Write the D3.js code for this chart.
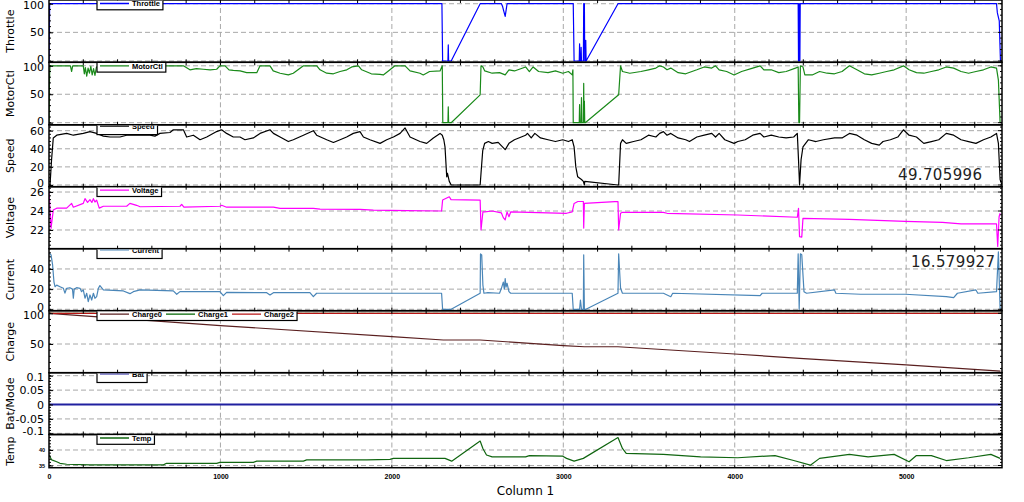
<!DOCTYPE html>
<html><head><meta charset="utf-8">
<script src="https://cdn.jsdelivr.net/npm/d3@7"></script>
<style>body{margin:0;background:#fff}svg{display:block}</style>
</head><body><svg id="c" width="1024" height="502"></svg>
<script>
// ---------- data (x = Column 1, y = value) ----------
const throttle = [[0,0],[4,100],[2292,100],[2296,0],[2327,0],[2329,28],[2331,0],[2346,0],[2515,100],[2639,100],[2646,95],[2652,88],[2661,78],[2666,88],[2672,100],[3058,100],[3063,0],[3093,0],[3095,30],[3097,0],[3102,0],[3104,24],[3106,0],[3117,0],[3119,100],[3123,100],[3125,0],[3129,0],[3131,36],[3133,0],[3319,100],[4370,100],[4372,0],[4374,100],[4376,0],[4378,100],[4380,0],[4382,100],[5527,100],[5532,84],[5543,70],[5550,0]];

const motorCtl = [[0,0],[3,80],[6,100],[125,100],[132,90],[138,100],[200,100],[206,86],[212,97],[220,82],[228,96],[236,87],[244,99],[252,84],[260,95],[268,83],[276,97],[284,100],[667,100],[784,100],[822,93],[860,95],[900,94],[940,93],[978,94],[997,100],[1027,100],[1050,93],[1075,92],[1115,91],[1153,88],[1212,88],[1231,100],[1289,100],[1308,91],[1348,87],[1396,84],[1425,87],[1484,100],[1562,100],[1581,93],[1620,87],[1659,86],[1698,90],[1737,93],[1766,98],[1805,100],[1824,93],[1880,86],[1931,85],[1950,84],[1989,93],[2018,100],[2077,100],[2106,91],[2164,87],[2183,84],[2220,90],[2281,91],[2294,100],[2297,0],[2327,0],[2329,28],[2331,0],[2346,0],[2515,49],[2520,100],[2531,98],[2542,91],[2585,87],[2628,88],[2661,84],[2683,93],[2715,91],[2780,98],[2802,90],[2824,98],[2856,90],[2911,88],[2954,91],[2997,87],[3030,90],[3052,84],[3056,93],[3058,0],[3093,0],[3095,32],[3097,0],[3104,0],[3106,44],[3108,0],[3117,0],[3119,69],[3121,0],[3123,38],[3125,0],[3128,0],[3323,49],[3334,100],[3345,90],[3388,87],[3453,90],[3497,93],[3540,96],[3562,100],[3584,98],[3605,93],[3627,96],[3670,88],[3714,86],[3779,93],[3822,98],[3866,96],[3888,100],[3909,93],[3953,90],[3996,84],[4040,90],[4105,96],[4148,100],[4170,93],[4213,93],[4257,88],[4300,90],[4354,96],[4370,98],[4374,0],[4378,0],[4383,100],[4398,98],[4409,84],[4452,84],[4495,90],[4539,87],[4582,86],[4626,90],[4669,100],[4713,93],[4756,86],[4799,84],[4843,87],[4886,90],[4930,93],[4984,100],[5017,93],[5060,88],[5103,87],[5147,90],[5190,93],[5234,98],[5277,96],[5320,90],[5364,87],[5407,90],[5451,93],[5494,98],[5527,96],[5538,75],[5548,0]];

const speed = [[0,0],[6,0],[15,28],[25,52],[45,55],[103,57],[142,55],[200,57],[239,59],[278,57],[317,54],[356,53],[414,53],[453,55],[531,55],[589,55],[618,54],[647,57],[706,58],[725,61],[784,61],[803,53],[842,55],[881,50],[920,53],[978,59],[1007,61],[1036,57],[1075,53],[1114,53],[1143,50],[1192,52],[1231,57],[1289,61],[1309,57],[1348,53],[1396,48],[1425,50],[1484,55],[1542,60],[1561,55],[1620,50],[1659,47],[1698,50],[1736,53],[1775,57],[1814,59],[1834,53],[1872,50],[1931,46],[1970,50],[2009,53],[2048,57],[2077,63],[2106,53],[2164,48],[2203,46],[2242,52],[2281,57],[2294,55],[2303,50],[2310,42],[2320,9],[2324,13],[2335,4],[2346,0],[2515,0],[2520,13],[2530,38],[2541,46],[2563,48],[2585,46],[2620,47],[2661,39],[2683,46],[2715,50],[2780,55],[2791,57],[2813,52],[2834,57],[2867,52],[2911,50],[2954,48],[2997,50],[3030,48],[3052,50],[3063,42],[3073,20],[3084,9],[3106,6],[3117,4],[3123,0],[3125,4],[3319,0],[3323,0],[3334,46],[3345,50],[3367,46],[3410,48],[3453,50],[3497,55],[3540,53],[3562,57],[3584,59],[3605,55],[3627,57],[3670,52],[3714,50],[3736,48],[3779,53],[3822,55],[3866,57],[3888,53],[3909,57],[3942,50],[3996,46],[4018,48],[4061,50],[4105,55],[4148,57],[4170,53],[4213,55],[4257,53],[4300,52],[4344,53],[4365,57],[4372,28],[4378,0],[4387,28],[4398,42],[4430,50],[4474,48],[4517,50],[4582,52],[4626,52],[4669,57],[4713,55],[4756,50],[4799,46],[4843,44],[4865,48],[4908,50],[4951,53],[4984,61],[5017,55],[5060,53],[5103,46],[5147,48],[5190,50],[5234,57],[5277,55],[5320,50],[5364,48],[5407,46],[5451,50],[5494,53],[5527,57],[5538,46],[5548,6],[5559,0]];

const voltage = [[0,26.1],[5,24.5],[12,22.2],[25,24.1],[45,24.3],[103,24.3],[132,24.8],[142,24.4],[200,24.8],[210,25.3],[225,24.9],[239,25.2],[250,24.9],[259,25.3],[268,24.95],[278,25.15],[293,24.3],[317,24.5],[453,24.5],[472,24.8],[511,24.6],[531,24.45],[764,24.5],[774,24.7],[787,24.4],[997,24.5],[1007,24.6],[1036,24.4],[1309,24.4],[1348,24.28],[1542,24.28],[1581,24.2],[1814,24.17],[1892,24.1],[2086,24.03],[2290,24.0],[2296,25.15],[2335,25.5],[2345,25.2],[2515,25.15],[2520,22.0],[2531,23.9],[2542,23.9],[2585,24.0],[2639,23.8],[2650,23.3],[2661,23.06],[2672,23.9],[2683,23.4],[2693,23.9],[3019,23.76],[3052,23.9],[3063,24.8],[3085,25.0],[3117,25.0],[3119,22.2],[3123,24.8],[3301,24.98],[3319,24.98],[3323,22.0],[3334,23.76],[3345,23.86],[3584,23.86],[3605,23.76],[4018,23.58],[4365,23.34],[4372,24.28],[4378,21.3],[4391,21.25],[4398,23.23],[4669,23.12],[4995,22.9],[5212,22.8],[5320,22.64],[5527,22.64],[5534,20.26],[5542,23.4],[5548,23.76]];

const current = [[0,55.6],[2,55.6],[12,54],[21,44],[29,27],[35,22.4],[45,24],[64,22.4],[84,20.8],[93,16],[103,20.8],[122,21.4],[137,20],[142,11],[147,20],[161,21.4],[181,20.8],[190,17.5],[200,19.2],[210,11],[220,15.9],[229,7.6],[239,14.2],[249,9.2],[259,15.9],[268,10.9],[278,12.5],[288,20.8],[297,23.5],[317,19.2],[434,18.2],[472,15.5],[492,17.5],[531,19.2],[725,18.2],[745,14.9],[764,17.5],[997,17.5],[1017,13.5],[1036,16.8],[1270,16.5],[1289,14.2],[1309,16.5],[1522,16.5],[1542,12.5],[1561,15.9],[1892,15.9],[2086,15.9],[2290,15.9],[2296,0],[2346,0],[2515,15.9],[2517,55],[2524,54],[2531,24],[2537,15.9],[2560,16.5],[2628,15.9],[2639,20.8],[2650,27],[2656,20],[2661,30.5],[2666,22],[2672,25.8],[2683,17.5],[2693,15.9],[3052,15.9],[3058,0],[3095,0],[3100,9.2],[3106,0],[3117,0],[3119,54],[3123,0],[3132,0],[3319,15.9],[3323,55],[3334,20.8],[3345,15.9],[3584,15.9],[3627,12.5],[3638,15.9],[4148,13.5],[4160,15.9],[4365,15.9],[4370,55],[4376,0],[4383,55],[4391,54],[4404,17.5],[4419,15.9],[4582,19.2],[4590,15.9],[4734,14.9],[4995,14.9],[5234,12.5],[5277,11.5],[5299,15.9],[5407,19.2],[5418,15.9],[5527,17.5],[5538,57],[5548,0]];

const charge0 = [[0,100],[1000,80],[2000,62],[2300,56.5],[2515,56.5],[3000,47.5],[3123,45.5],[3319,45.5],[4000,33.7],[4378,26.7],[5000,16],[5550,6]];
const charge1 = [[0,100],[5559,100]];
const charge2 = [[0,100],[5559,100]];
const bat = [[0,0],[5559,0]];

const temp = [[0,38.5],[2,38.2],[16,36.8],[45,36.2],[64,35.7],[103,35.4],[239,35.2],[667,35.2],[686,35.7],[978,35.7],[997,36.0],[1192,36.0],[1212,36.4],[1484,36.4],[1503,36.8],[1853,36.8],[1989,37.0],[2009,37.3],[2310,37.3],[2349,36.4],[2515,42.9],[2531,40.5],[2552,38.4],[2585,37.8],[2780,37.8],[2802,38.2],[2997,38.0],[3019,37.3],[3063,36.4],[3117,37.3],[3319,44.0],[3345,40.5],[3367,38.9],[3584,38.6],[3801,37.8],[4018,37.5],[4235,38.2],[4344,36.6],[4441,35.1],[4495,37.3],[4669,38.6],[4778,37.8],[4930,38.6],[5017,36.2],[5060,38.2],[5147,38.2],[5234,36.6],[5364,37.5],[5494,38.6],[5548,37.3]];

const xTicks = [0,1000,2000,3000,4000,5000];
const xDomain = [0,5559];
const xTitle = "Column 1";

const panels = [
  {label:"Throttle", domain:[-2.3,106.5], ticks:[0,50,100], series:[{name:"Throttle",data:throttle,color:"#0000ff"}]},
  {label:"MotorCtl", domain:[-3.7,106.2], ticks:[0,50,100], series:[{name:"MotorCtl",data:motorCtl,color:"#1a8a1a"}]},
  {label:"Speed", domain:[-1.9,66.5], ticks:[0,20,40,60], series:[{name:"Speed",data:speed,color:"#000000"}], readout:"49.705996"},
  {label:"Voltage", domain:[20.03,26.56], ticks:[22,24,26], series:[{name:"Voltage",data:voltage,color:"#ff00ff"}]},
  {label:"Current", domain:[-1.4,60.1], ticks:[0,20,40], series:[{name:"Current",data:current,color:"#4a86b8"}], readout:"16.579927"},
  {label:"Charge", domain:[3.3,104.2], ticks:[50,100], series:[{name:"Charge0",data:charge0,color:"#5a1f1f"},{name:"Charge1",data:charge1,color:"#006400"},{name:"Charge2",data:charge2,color:"#b81414"}]},
  {label:"Bat/Mode", domain:[-0.104,0.1104], ticks:[-0.1,-0.05,0,0.05,0.1], series:[{name:"Bat",data:bat,color:"#2020a0"}]},
  {label:"Temp", domain:[34.29,45], ticks:[35,40], series:[{name:"Temp",data:temp,color:"#116611"}]}
];

// ---------- layout ----------
const edges = [0,62.3,124.8,186.7,248.7,310.7,372.7,434.5,467.7];
const L = 49, R = 1002;
const legendHigh = {"Speed":1,"Current":1,"Bat/Mode":1};
const readoutPos = {"Speed":[898,179.5],"Current":[911,266.5]};

const svg = d3.select("#c");
const defs = svg.append("defs");
const x = d3.scaleLinear().domain(xDomain).range([L,R]);
const gridColor = "#a8a8a8";

panels.forEach((p,i)=>{
  const top = edges[i], bot = edges[i+1];
  const y = d3.scaleLinear().domain(p.domain).range([bot,top]);
  const g = svg.append("g");
  const cid = "clip"+i, lcid = "lclip"+i;
  defs.append("clipPath").attr("id",cid).append("rect").attr("x",L).attr("y",top).attr("width",R-L).attr("height",bot-top);
  defs.append("clipPath").attr("id",lcid).append("rect").attr("x",0).attr("y",top+0.8).attr("width",1024).attr("height",bot-top);

  // grid
  g.selectAll(".hg").data(p.ticks).join("line")
    .attr("x1",L).attr("x2",R).attr("y1",d=>y(d)).attr("y2",d=>y(d))
    .attr("stroke",gridColor).attr("stroke-width",1).attr("stroke-dasharray","5,3");
  g.selectAll(".vg").data(xTicks.filter(v=>v>0)).join("line")
    .attr("x1",d=>x(d)).attr("x2",d=>x(d)).attr("y1",top).attr("y2",bot)
    .attr("stroke",gridColor).attr("stroke-width",1).attr("stroke-dasharray","5,3");

  // readout text
  if (p.readout) {
    const pos = readoutPos[p.label];
    g.append("text").attr("x",pos[0]).attr("y",pos[1]).attr("textLength",84).attr("lengthAdjust","spacing")
      .attr("font-family","DejaVu Sans").attr("font-size",15).attr("fill","#222").text(p.readout);
  }

  // data
  const line = d3.line().x(d=>x(d[0])).y(d=>y(d[1]));
  p.series.forEach(s=>{
    g.append("path").attr("clip-path",`url(#${cid})`).attr("d",line(s.data))
      .attr("fill","none").attr("stroke",s.color).attr("stroke-width",s.name==="Bat"?1.8:1.2)
      .attr("stroke-linejoin","round");
  });

  // border
  g.append("rect").attr("x",L).attr("y",top).attr("width",R-L).attr("height",bot-top)
    .attr("fill","none").attr("stroke","#000").attr("stroke-width",1.5);

  // x minor ticks on top and bottom
  const xm = d3.range(200, xDomain[1], 200);
  g.selectAll(".xt").data(xm).join("line")
    .attr("x1",d=>x(d)).attr("x2",d=>x(d)).attr("y1",top).attr("y2",top+3).attr("stroke","#000");
  g.selectAll(".xb").data(xm).join("line")
    .attr("x1",d=>x(d)).attr("x2",d=>x(d)).attr("y1",bot-3).attr("y2",bot).attr("stroke","#000");

  // y minor ticks left/right
  const step = p.ticks[1]-p.ticks[0];
  const mstep = step/5;
  const mstart = Math.ceil(p.domain[0]/mstep)*mstep;
  const mvals = [];
  for (let v=mstart; v<=p.domain[1]; v+=mstep) mvals.push(v);
  g.selectAll(".ym").data(mvals).join("line")
    .attr("x1",L).attr("x2",L+2).attr("y1",d=>y(d)).attr("y2",d=>y(d)).attr("stroke","#000");
  g.selectAll(".ymr").data(mvals).join("line")
    .attr("x1",R-2).attr("x2",R).attr("y1",d=>y(d)).attr("y2",d=>y(d)).attr("stroke","#000");

  // y axis with labels kept inside the panel band
  const small = p.label==="Temp";
  const ax = d3.axisLeft(y).tickValues(p.ticks).tickSize(-4).tickPadding(small?4:5).tickFormat(d=>String(d));
  const ag = g.append("g").attr("transform",`translate(${L},0)`).call(ax);
  ag.select(".domain").remove();
  ag.selectAll(".tick line").attr("stroke","#000");
  ag.selectAll(".tick text").attr("font-family",small?"Liberation Sans":"DejaVu Sans")
    .attr("font-size",small?5.5:11).attr("font-weight",small?"bold":"normal").attr("fill","#000")
    .attr("y",d=>{
      if (small) return 0;
      const ty = y(d);
      const c = Math.max(top+4.6, Math.min(bot-3.6, ty));
      return c - ty;
    });
  g.selectAll(".yr").data(p.ticks).join("line")
    .attr("x1",R-4).attr("x2",R).attr("y1",d=>y(d)).attr("y2",d=>y(d)).attr("stroke","#000");

  // panel title (rotated)
  g.append("text").attr("transform",`translate(13.5,${(top+bot)/2}) rotate(-90)`)
    .attr("text-anchor","middle").attr("font-family","DejaVu Sans").attr("font-size",11).attr("fill","#000")
    .text(p.label);

  // legend
  const lg = g.append("g").attr("clip-path",`url(#${lcid})`);
  const ty = top + (legendHigh[p.label] ? 1.2 : 3.5);
  let cx = 100;
  p.series.forEach(s=>{
    lg.append("line").attr("x1",cx).attr("x2",cx+29).attr("y1",ty).attr("y2",ty)
      .attr("stroke",s.color).attr("stroke-width",1.3);
    const t = lg.append("text").attr("x",cx+32).attr("y",ty+2.7)
      .attr("font-family","Liberation Sans").attr("font-weight","bold").attr("font-size",7.5).attr("fill","#000").text(s.name);
    cx += 32 + t.node().getComputedTextLength() + 4;
  });
  lg.insert("rect",":first-child").attr("x",97).attr("y",top-1).attr("width",cx-1-97).attr("height",10.8)
    .attr("fill","#fff").attr("stroke","#000").attr("stroke-width",1.2);
});

// bottom x axis labels
const xa = d3.axisBottom(x).tickValues(xTicks).tickSize(0).tickPadding(6.5).tickFormat(d=>String(d));
const xg = svg.append("g").attr("transform",`translate(0,${edges[edges.length-1]})`).call(xa);
xg.select(".domain").remove();
xg.selectAll("text").attr("font-family","Liberation Sans").attr("font-weight","bold").attr("font-size",7).attr("fill","#000");

svg.append("text").attr("x",(L+R)/2).attr("y",495).attr("text-anchor","middle")
  .attr("font-family","DejaVu Sans").attr("font-size",12).attr("fill","#000").text(xTitle);
</script></body></html>
